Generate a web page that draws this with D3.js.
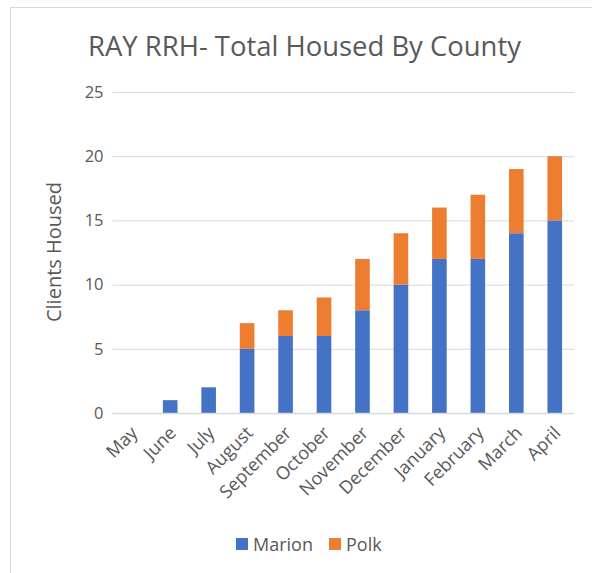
<!DOCTYPE html>
<html>
<head>
<meta charset="utf-8">
<script src="https://cdn.jsdelivr.net/npm/d3@7/dist/d3.min.js"></script>
<style>
  html, body { margin: 0; padding: 0; background: #fff; }
  svg { display: block; font-family: "Open Sans", "Noto Sans", sans-serif; }
</style>
</head>
<body>
<svg id="chart" width="592" height="573"></svg>
<script>
const months = ["May", "June", "July", "August", "September", "October",
  "November", "December", "January", "February", "March", "April"];
const marion = [0, 1, 2, 5, 6, 6, 8, 10, 12, 12, 14, 15];
const polk   = [0, 0, 0, 2, 2, 3, 4, 4, 4, 5, 5, 5];
const seriesNames = ["Marion", "Polk"];
const seriesColors = ["#4472C4", "#ED7D31"];
const yTicks = [0, 5, 10, 15, 20, 25];

const svg = d3.select("#chart");
const textColor = "#595959";

// chart frame
svg.append("rect")
  .attr("x", 10.5).attr("y", 7.5)
  .attr("width", 800).attr("height", 800)
  .attr("fill", "none").attr("stroke", "#d9d9d9").attr("stroke-width", 1);

const plot = { left: 112.5, right: 574, top: 92, bottom: 413 };

const x = d3.scaleBand()
  .domain(months)
  .range([plot.left, plot.right])
  .paddingInner(0.62)
  .paddingOuter(0.31);

const y = d3.scaleLinear()
  .domain([0, 25])
  .range([plot.bottom, plot.top]);

// title, sized to its span
const title = svg.append("text")
  .attr("x", 304.5).attr("y", 56)
  .attr("text-anchor", "middle")
  .attr("fill", textColor)
  .attr("font-size", 25)
  .text("RAY RRH- Total Housed By County");
const tw = title.node().getComputedTextLength();
title.attr("font-size", 25 * 433 / tw);

// gridlines + y labels
const yAxis = d3.axisLeft(y).tickValues(yTicks)
  .tickSize(-(plot.right - plot.left)).tickPadding(9);
const gy = svg.append("g")
  .attr("transform", `translate(${plot.left},0)`)
  .call(yAxis);
gy.select(".domain").remove();
gy.selectAll(".tick line").attr("stroke", "#d9d9d9").attr("stroke-width", 1);
gy.selectAll(".tick text")
  .attr("fill", textColor).attr("font-size", 16.5)
  .attr("font-family", "'Open Sans', sans-serif");

// y axis title
svg.append("text")
  .attr("transform", `translate(61,252) rotate(-90)`)
  .attr("text-anchor", "middle")
  .attr("fill", textColor)
  .attr("font-size", 20)
  .text("Clients Housed");

// stacked bars
const rows = months.map((m, i) => ({ month: m, Marion: marion[i], Polk: polk[i] }));
const stack = d3.stack().keys(seriesNames)(rows);
svg.append("g").selectAll("g")
  .data(stack)
  .join("g")
  .attr("fill", (d, i) => seriesColors[i])
  .selectAll("rect")
  .data(d => d)
  .join("rect")
  .attr("x", d => x(d.data.month))
  .attr("y", d => y(d[1]))
  .attr("width", x.bandwidth())
  .attr("height", d => y(d[0]) - y(d[1]));

// x category labels
const xAxis = d3.axisBottom(x).tickSize(0).tickPadding(0);
const gx = svg.append("g")
  .attr("transform", `translate(0,${plot.bottom})`)
  .call(xAxis);
gx.select(".domain").remove();
gx.selectAll(".tick text")
  .attr("fill", textColor).attr("font-size", 18)
  .attr("font-family", "'Open Sans', sans-serif")
  .attr("text-anchor", "end")
  .attr("dy", null)
  .attr("y", null)
  .attr("transform", "translate(7,21) rotate(-45)");

// baseline
svg.append("line")
  .attr("x1", plot.left).attr("x2", plot.right)
  .attr("y1", y(0) + 0.5).attr("y2", y(0) + 0.5)
  .attr("stroke", "#d9d9d9").attr("stroke-width", 1.5);

// legend
const legend = svg.append("g");
const legendItems = [
  { name: "Marion", color: seriesColors[0], x: 236 },
  { name: "Polk", color: seriesColors[1], x: 329 }
];
legendItems.forEach(it => {
  legend.append("rect")
    .attr("x", it.x).attr("y", 538)
    .attr("width", 12).attr("height", 12)
    .attr("fill", it.color);
  legend.append("text")
    .attr("x", it.x + 17).attr("y", 551)
    .attr("fill", textColor).attr("font-size", 18)
    .text(it.name);
});
</script>
</body>
</html>
